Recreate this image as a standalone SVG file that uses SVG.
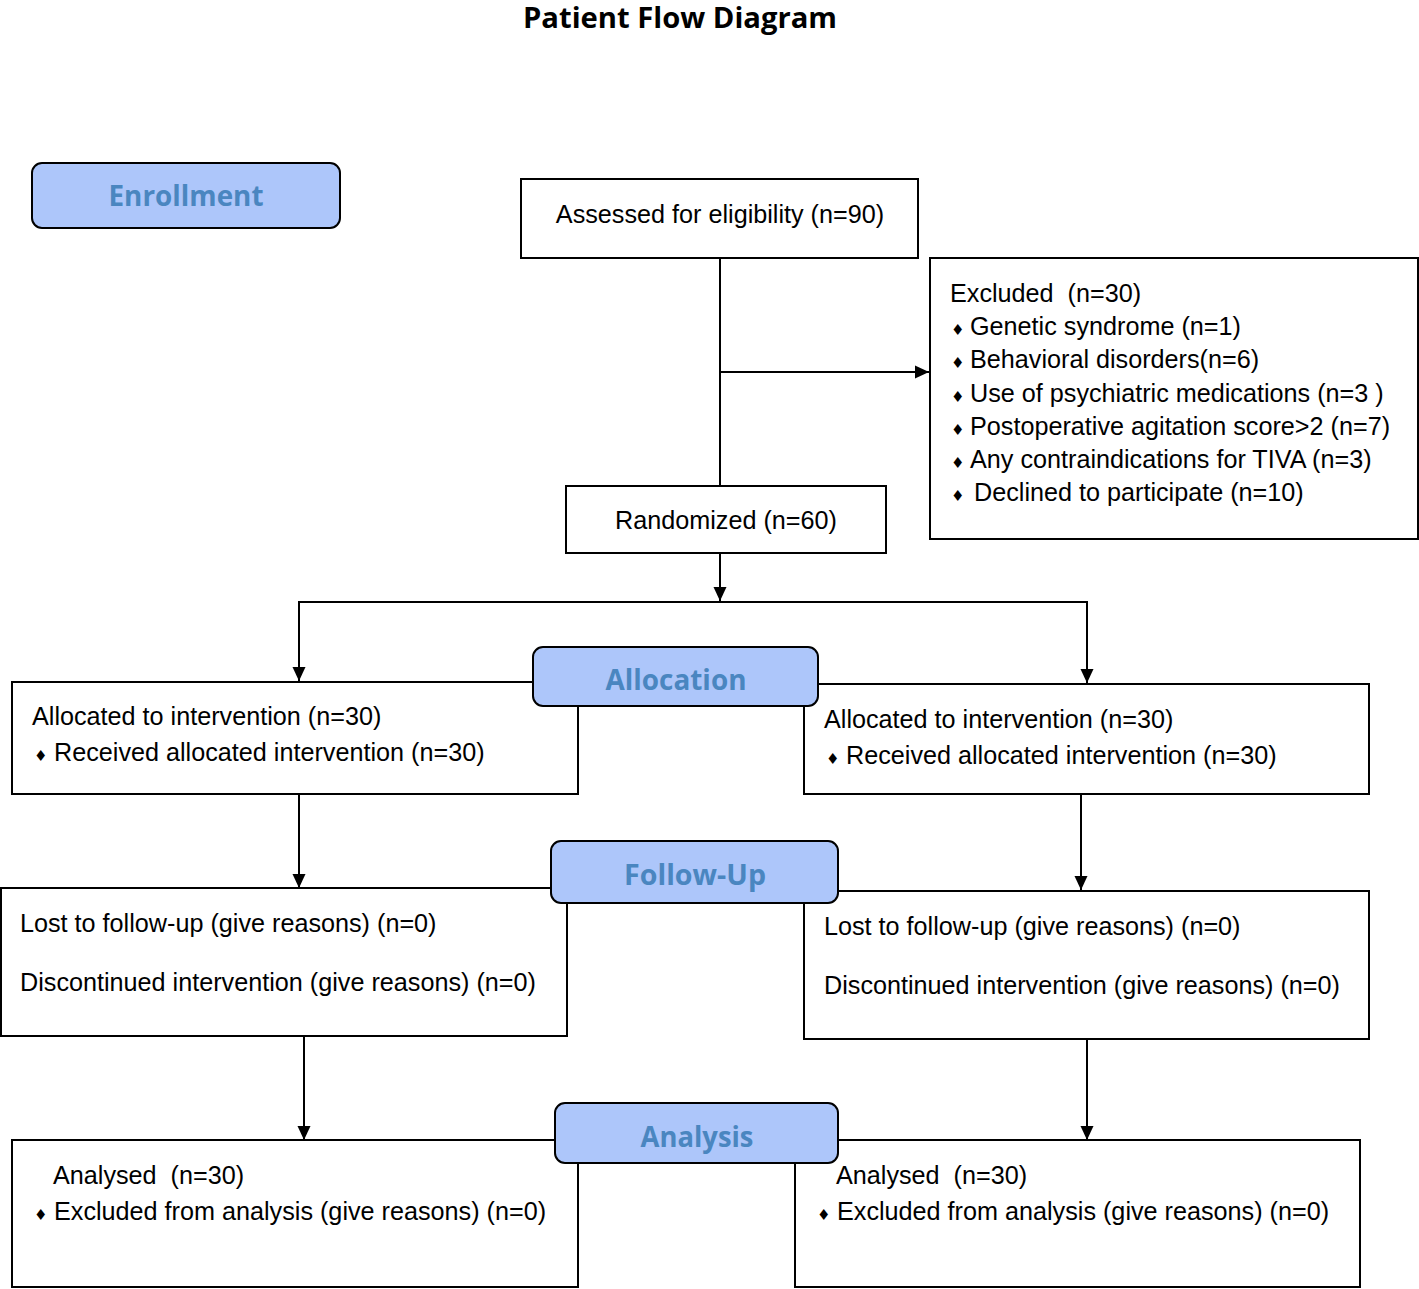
<svg xmlns="http://www.w3.org/2000/svg" width="1419" height="1289" viewBox="0 0 1419 1289">
<style>
.box{fill:#fff;stroke:#000;stroke-width:2}
.lab{fill:#adc6fa;stroke:#000;stroke-width:2}
.t{font-family:"Liberation Sans",Arial,sans-serif;font-size:25.2px;fill:#000;white-space:pre}
.d{font-family:"DejaVu Sans",sans-serif;font-size:15px;fill:#000}
.lt{font-family:"Open Sans","Noto Sans",sans-serif;font-weight:bold;font-size:29px;fill:#4a86c0;text-anchor:middle}
.ttl{font-family:"Open Sans","Noto Sans",sans-serif;font-weight:bold;font-size:28px;fill:#000;text-anchor:middle}
.ln{stroke:#000;stroke-width:2;fill:none}
</style>
<defs>
<marker id="ah" markerWidth="14" markerHeight="14" viewBox="0 0 14 14" refX="14" refY="7" orient="auto" markerUnits="userSpaceOnUse">
<path d="M0,0.5 L14,7 L0,13.5 Z" fill="#000"/>
</marker>
</defs>
<rect width="1419" height="1289" fill="#fff"/>
<text class="ttl" x="680" y="28" textLength="314" lengthAdjust="spacingAndGlyphs">Patient Flow Diagram</text>

<g id="connectors">
<line class="ln" x1="720" y1="258" x2="720" y2="486"/>
<line class="ln" x1="720" y1="372" x2="929" y2="372" marker-end="url(#ah)"/>
<line class="ln" x1="720" y1="553" x2="720" y2="601" marker-end="url(#ah)"/>
<line class="ln" x1="299" y1="602" x2="1087" y2="602"/>
<line class="ln" x1="299" y1="601" x2="299" y2="681" marker-end="url(#ah)"/>
<line class="ln" x1="1087" y1="601" x2="1087" y2="683" marker-end="url(#ah)"/>
<line class="ln" x1="299" y1="794" x2="299" y2="888" marker-end="url(#ah)"/>
<line class="ln" x1="1081" y1="794" x2="1081" y2="890" marker-end="url(#ah)"/>
<line class="ln" x1="304" y1="1036" x2="304" y2="1140" marker-end="url(#ah)"/>
<line class="ln" x1="1087" y1="1039" x2="1087" y2="1140" marker-end="url(#ah)"/>
</g>

<g id="assessed">
<rect class="box" x="521" y="179" width="397" height="79"/>
<text class="t" x="720" y="223" text-anchor="middle">Assessed for eligibility (n=90)</text>
</g>

<g id="excluded">
<rect class="box" x="930" y="258" width="488" height="281"/>
<text class="t" x="950" y="302">Excluded  (n=30)</text>
<text class="d" x="951" y="335">♦</text><text class="t" x="970" y="335">Genetic syndrome (n=1)</text>
<text class="d" x="951" y="368">♦</text><text class="t" x="970" y="368">Behavioral disorders(n=6)</text>
<text class="d" x="951" y="402">♦</text><text class="t" x="970" y="402">Use of psychiatric medications (n=3 )</text>
<text class="d" x="951" y="435">♦</text><text class="t" x="970" y="435">Postoperative agitation score&gt;2 (n=7)</text>
<text class="d" x="951" y="468">♦</text><text class="t" x="970" y="468">Any contraindications for TIVA (n=3)</text>
<text class="d" x="951" y="501">♦</text><text class="t" x="974" y="501">Declined to participate (n=10)</text>
</g>

<g id="randomized">
<rect class="box" x="566" y="486" width="320" height="67"/>
<text class="t" x="726" y="529" text-anchor="middle">Randomized (n=60)</text>
</g>

<g id="alloc-left">
<rect class="box" x="12" y="682" width="566" height="112"/>
<text class="t" x="32" y="725">Allocated to intervention (n=30)</text>
<text class="d" x="34" y="761">♦</text><text class="t" x="54" y="761">Received allocated intervention (n=30)</text>
</g>

<g id="alloc-right">
<rect class="box" x="804" y="684" width="565" height="110"/>
<text class="t" x="824" y="728">Allocated to intervention (n=30)</text>
<text class="d" x="826" y="764">♦</text><text class="t" x="846" y="764">Received allocated intervention (n=30)</text>
</g>

<g id="followup-left">
<rect class="box" x="1" y="888" width="566" height="148"/>
<text class="t" x="20" y="932">Lost to follow-up (give reasons) (n=0)</text>
<text class="t" x="20" y="991">Discontinued intervention (give reasons) (n=0)</text>
</g>

<g id="followup-right">
<rect class="box" x="804" y="891" width="565" height="148"/>
<text class="t" x="824" y="935">Lost to follow-up (give reasons) (n=0)</text>
<text class="t" x="824" y="994">Discontinued intervention (give reasons) (n=0)</text>
</g>

<g id="analysis-left">
<rect class="box" x="12" y="1140" width="566" height="147"/>
<text class="t" x="53" y="1184">Analysed  (n=30)</text>
<text class="d" x="34" y="1220">♦</text><text class="t" x="54" y="1220">Excluded from analysis (give reasons) (n=0)</text>
</g>

<g id="analysis-right">
<rect class="box" x="795" y="1140" width="565" height="147"/>
<text class="t" x="836" y="1184">Analysed  (n=30)</text>
<text class="d" x="817" y="1220">♦</text><text class="t" x="837" y="1220">Excluded from analysis (give reasons) (n=0)</text>
</g>

<g id="label-enrollment">
<rect class="lab" x="32" y="163" width="308" height="65" rx="10"/>
<text class="lt" x="186" y="206" textLength="155" lengthAdjust="spacingAndGlyphs">Enrollment</text>
</g>
<g id="label-allocation">
<rect class="lab" x="533" y="647" width="285" height="59" rx="10"/>
<text class="lt" x="676" y="690" textLength="141" lengthAdjust="spacingAndGlyphs">Allocation</text>
</g>
<g id="label-followup">
<rect class="lab" x="551" y="841" width="287" height="62" rx="10"/>
<text class="lt" x="695" y="885" textLength="142" lengthAdjust="spacingAndGlyphs">Follow-Up</text>
</g>
<g id="label-analysis">
<rect class="lab" x="555" y="1103" width="283" height="60" rx="10"/>
<text class="lt" x="697" y="1147" textLength="113" lengthAdjust="spacingAndGlyphs">Analysis</text>
</g>
</svg>
